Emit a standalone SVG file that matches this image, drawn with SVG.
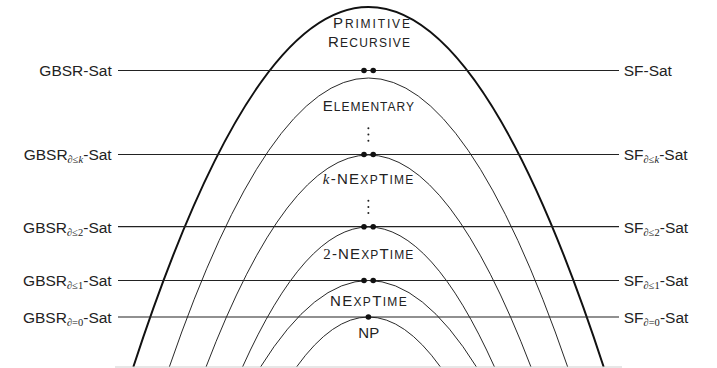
<svg xmlns="http://www.w3.org/2000/svg" width="717" height="368" viewBox="0 0 717 368">
<style>
.bg{fill:#fff}
.curve{fill:none;stroke:#111;stroke-width:0.9}
.thick{fill:none;stroke:#111;stroke-width:2}
.hl{stroke:#222;stroke-width:1.2}
.base{stroke:#cfcfcf;stroke-width:1.2}
.dot{fill:#111}
.edot{fill:#222}
text{font-family:"Liberation Sans",Arial,sans-serif;fill:#222}
.lab{font-size:15.5px}
.cls{font-size:15px}
.sc{font-size:12px}
.sub{font-size:10.5px}
.m{font-family:"Liberation Serif","Times New Roman",serif;font-style:italic}
.mr{font-family:"Liberation Serif","Times New Roman",serif}
</style>
<rect class="bg" x="0" y="0" width="717" height="368"/>
<g id="classes">
  <path id="primrec" class="thick" d="M133.3,367 Q368.5,-353 603.7,367"/>
  <path id="elementary" class="curve" d="M169.3,367 Q368.5,-211 567.7,367"/>
  <path id="knexptime" class="curve" d="M206,367 Q368.5,-57 531,367"/>
  <path id="twonexptime" class="curve" d="M242.5,367 Q368.5,87 494.5,367"/>
  <path id="nexptime" class="curve" d="M260.5,367 Q368.5,194 476.5,367"/>
  <path id="np" class="curve" d="M296.5,367 Q368.5,267 440.5,367"/>
</g>
<g id="connectors">
  <line class="base" x1="115" y1="367" x2="622" y2="367"/>
  <line class="hl" x1="118" y1="70.5" x2="619" y2="70.5"/>
  <line class="hl" x1="118" y1="154.5" x2="619" y2="154.5"/>
  <line class="hl" x1="118" y1="226.7" x2="619" y2="226.7"/>
  <line class="hl" x1="118" y1="280.5" x2="619" y2="280.5"/>
  <line class="hl" x1="118" y1="317" x2="619" y2="317"/>
</g>
<g id="dots">
  <circle class="dot" cx="364" cy="70.5" r="2.8"/><circle class="dot" cx="373.2" cy="70.5" r="2.8"/>
  <circle class="dot" cx="364" cy="154.5" r="2.8"/><circle class="dot" cx="373.2" cy="154.5" r="2.8"/>
  <circle class="dot" cx="364" cy="226.7" r="2.8"/><circle class="dot" cx="373.2" cy="226.7" r="2.8"/>
  <circle class="dot" cx="364" cy="280.5" r="2.8"/><circle class="dot" cx="373.2" cy="280.5" r="2.8"/>
  <circle class="dot" cx="368.4" cy="317" r="2.8"/>
  <circle class="edot" cx="368.4" cy="128.3" r="1"/><circle class="edot" cx="368.4" cy="134.5" r="1"/><circle class="edot" cx="368.4" cy="140.7" r="1"/>
  <circle class="edot" cx="368.4" cy="200.7" r="1"/><circle class="edot" cx="368.4" cy="206.9" r="1"/><circle class="edot" cx="368.4" cy="213.1" r="1"/>
</g>
<g id="class-labels">
  <text class="cls" x="333" y="28.3" textLength="77" lengthAdjust="spacing">P<tspan class="sc">RIMITIVE</tspan></text>
  <text class="cls" x="328" y="46.7" textLength="82" lengthAdjust="spacing">R<tspan class="sc">ECURSIVE</tspan></text>
  <text class="cls" x="322.7" y="111" textLength="91.3" lengthAdjust="spacing">E<tspan class="sc">LEMENTARY</tspan></text>
  <text class="cls" x="322.7" y="184.3" textLength="90.6" lengthAdjust="spacing"><tspan class="m">k</tspan>-NE<tspan class="sc">XP</tspan>T<tspan class="sc">IME</tspan></text>
  <text class="cls" x="323.3" y="259" textLength="90" lengthAdjust="spacing"><tspan class="mr">2</tspan>-NE<tspan class="sc">XP</tspan>T<tspan class="sc">IME</tspan></text>
  <text class="cls" x="330" y="305.7" textLength="76.7" lengthAdjust="spacing">NE<tspan class="sc">XP</tspan>T<tspan class="sc">IME</tspan></text>
  <text class="cls" x="358.3" y="337.7">NP</text>
</g>
<g id="left-labels">
  <text class="lab" x="111.7" y="76.3" text-anchor="end">GBSR-Sat</text>
  <text class="lab" x="111.7" y="160.3" text-anchor="end">GBSR<tspan class="sub m" dy="3">∂</tspan><tspan class="sub mr">≤</tspan><tspan class="sub m">k</tspan><tspan dy="-3">-Sat</tspan></text>
  <text class="lab" x="111.7" y="232.5" text-anchor="end">GBSR<tspan class="sub m" dy="3">∂</tspan><tspan class="sub mr">≤2</tspan><tspan dy="-3">-Sat</tspan></text>
  <text class="lab" x="111.7" y="286.3" text-anchor="end">GBSR<tspan class="sub m" dy="3">∂</tspan><tspan class="sub mr">≤1</tspan><tspan dy="-3">-Sat</tspan></text>
  <text class="lab" x="111.7" y="322.8" text-anchor="end">GBSR<tspan class="sub m" dy="3">∂</tspan><tspan class="sub mr">=0</tspan><tspan dy="-3">-Sat</tspan></text>
</g>
<g id="right-labels">
  <text class="lab" x="623.7" y="76.3">SF-Sat</text>
  <text class="lab" x="623.7" y="160.3">SF<tspan class="sub m" dy="3">∂</tspan><tspan class="sub mr">≤</tspan><tspan class="sub m">k</tspan><tspan dy="-3">-Sat</tspan></text>
  <text class="lab" x="623.7" y="232.5">SF<tspan class="sub m" dy="3">∂</tspan><tspan class="sub mr">≤2</tspan><tspan dy="-3">-Sat</tspan></text>
  <text class="lab" x="623.7" y="286.3">SF<tspan class="sub m" dy="3">∂</tspan><tspan class="sub mr">≤1</tspan><tspan dy="-3">-Sat</tspan></text>
  <text class="lab" x="623.7" y="322.8">SF<tspan class="sub m" dy="3">∂</tspan><tspan class="sub mr">=0</tspan><tspan dy="-3">-Sat</tspan></text>
</g>
</svg>
